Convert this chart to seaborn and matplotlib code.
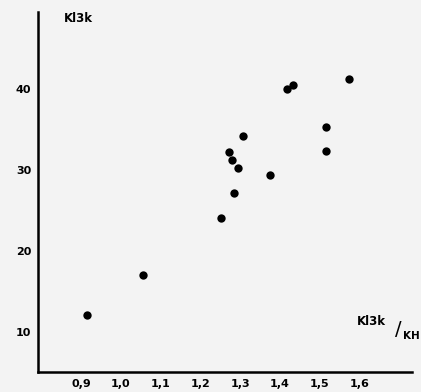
import matplotlib
matplotlib.use("Agg")
import matplotlib.pyplot as plt
import seaborn as sns
import pandas as pd

ratio = [0.914, 1.056, 1.253, 1.285, 1.273, 1.281, 1.295, 1.307, 1.375, 1.418, 1.433, 1.515, 1.515, 1.574]
value = [12.1, 17.1, 24.1, 27.2, 32.2, 31.2, 30.2, 34.2, 29.4, 40.0, 40.5, 35.3, 32.3, 41.2]
xticks = [0.9, 1.0, 1.1, 1.2, 1.3, 1.4, 1.5, 1.6]
xticklabels = ["0,9", "1,0", "1,1", "1,2", "1,3", "1,4", "1,5", "1,6"]
yticks = [10, 20, 30, 40]
ylabel_text = "Kl3k"
xlabel_top = "Kl3k"
xlabel_bottom = "KH"

df = pd.DataFrame({"ratio": ratio, "value": value})

sns.set_style("white")
plt.rcParams["font.family"] = ["DejaVu Sans"]
plt.rcParams["text.color"] = "black"
plt.rcParams["xtick.color"] = "black"
plt.rcParams["ytick.color"] = "black"
bg = "#f3f3f3"
fig = plt.figure(figsize=(4.21, 3.92), dpi=100, facecolor=bg)
ax = fig.add_axes([0.0903, 0.051, 0.888, 0.918], facecolor=bg)

sns.scatterplot(data=df, x="ratio", y="value", color="black", s=36,
                edgecolor="black", linewidth=0, ax=ax, zorder=3)

ax.set_xlim(0.792, 1.732)
ax.set_ylim(5.06, 49.5)
ax.set_xticks(xticks)
ax.set_xticklabels(xticklabels)
ax.set_yticks(yticks)
ax.set_yticklabels([str(t) for t in yticks])
for s in ["top", "right"]:
    ax.spines[s].set_visible(False)
for s in ["left", "bottom"]:
    ax.spines[s].set_color("black")
    ax.spines[s].set_linewidth(1.8)
ax.tick_params(axis="both", which="major", length=3, width=1.2, color="black",
               labelcolor="black", direction="out", labelsize=8, pad=2)
for lab in ax.get_xticklabels() + ax.get_yticklabels():
    lab.set_fontweight("bold")
ax.set_xlabel("")
ax.set_ylabel("")

ax.text(0.07, 1.0, ylabel_text, transform=ax.transAxes, fontsize=8.5,
        fontweight="bold", ha="left", va="top", color="black")
ax.text(0.853, 0.139, xlabel_top, transform=ax.transAxes, fontsize=8.5,
        fontweight="bold", ha="left", va="center", color="black")
ax.text(0.963, 0.118, "/", transform=ax.transAxes, fontsize=14,
        ha="center", va="center", color="black")
ax.text(0.976, 0.100, xlabel_bottom, transform=ax.transAxes, fontsize=7.5,
        fontweight="bold", ha="left", va="center", color="black", clip_on=False)

fig.savefig("out.png", dpi=100, facecolor=bg)
